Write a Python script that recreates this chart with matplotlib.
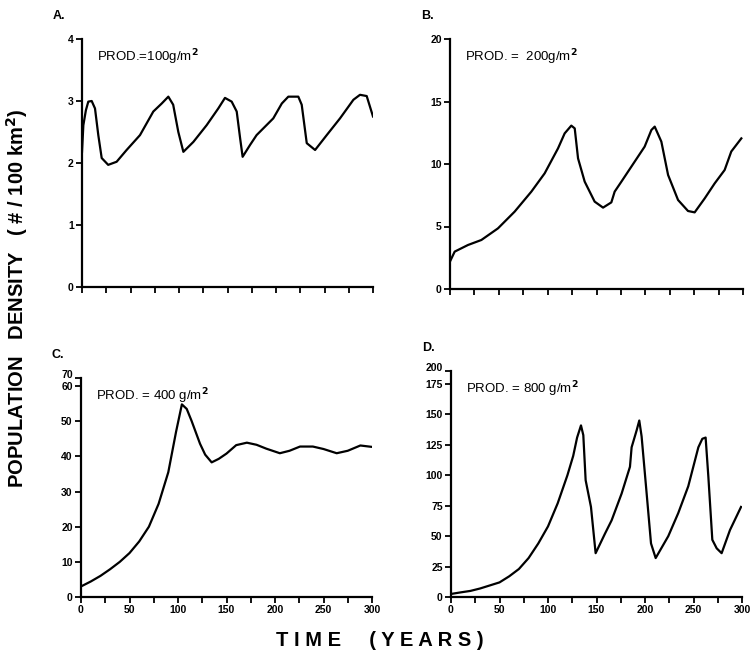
import matplotlib
matplotlib.use("Agg")
import matplotlib.pyplot as plt

plt.rcParams['font.family'] = ['Liberation Sans', 'DejaVu Sans']

W, H = 754, 658

# panel A, PROD = 100 g/m2
a_t = [0, 1.4, 4, 6.5, 10, 13.4, 16.8, 20.3, 27, 35.7, 46, 59.8, 73.5, 82.2, 89, 94,
       99.3, 104.5, 114.8, 128.5, 140.5, 147.4, 154.3, 159.5, 163, 165.6, 173.2, 180,
       197.2, 206, 212.7, 223, 226.5, 231.7, 240.3, 252.3, 266, 279.8, 286.6, 293.5, 300]
a_v = [2.18, 2.61, 2.85, 2.99, 3.0, 2.88, 2.45, 2.08, 1.97, 2.02, 2.21, 2.45, 2.83, 2.96, 3.07, 2.94,
       2.5, 2.18, 2.34, 2.61, 2.88, 3.05, 2.99, 2.83, 2.4, 2.1, 2.29, 2.45,
       2.72, 2.96, 3.07, 3.07, 2.94, 2.32, 2.21, 2.45, 2.72, 3.02, 3.1, 3.08, 2.75]

# panel B, PROD = 200 g/m2
b_t = [0, 4.8, 18.4, 32.1, 49.1, 66.2, 83.3, 96.9, 110.6, 117.4, 124.2, 127.7, 131.1, 137.9,
       148.1, 156.7, 165.2, 168.6, 175.5, 185.7, 199.3, 206.2, 209.6, 216.4, 223.3, 233.5,
       243.7, 250.5, 260.8, 271, 281.2, 288, 298.3]
b_v = [2.2, 2.99, 3.52, 3.92, 4.85, 6.19, 7.79, 9.25, 11.25, 12.45, 13.07, 12.85, 10.45, 8.59,
       6.99, 6.51, 6.93, 7.79, 8.59, 9.79, 11.39, 12.72, 12.99, 11.79, 9.12, 7.12,
       6.24, 6.13, 7.25, 8.45, 9.52, 11.0, 12.05]

# panel C, PROD = 400 g/m2
c_t = [0, 10, 20, 30, 40, 50, 60, 70, 80, 90, 98, 104, 109, 114, 122.7, 128, 134.7, 142, 150,
       160, 171, 181, 191, 205, 215, 225.8, 239, 250, 263.6, 275, 288, 300]
c_v = [3.0, 4.4, 6.0, 7.9, 10.0, 12.5, 15.8, 20.0, 26.5, 35.5, 47.0, 54.8, 53.5, 50.1, 43.6, 40.5,
       38.3, 39.3, 40.8, 43.2, 43.9, 43.3, 42.2, 40.9, 41.6, 42.8, 42.8, 42.1, 40.9, 41.6, 43.1, 42.7]

# panel D, PROD = 800 g/m2
d_t = [0, 10, 20, 30, 40, 50, 60, 70, 80, 90, 100, 110, 120, 126, 130, 134, 136.4, 138.8, 144.3,
       149.1, 158.7, 165.6, 175.9, 184.5, 186.2, 191.4, 194.1, 196.5, 201.7, 206.2, 211,
       224, 234.3, 244.6, 255, 259.1, 262.5, 265.3, 269.4, 273.9, 279, 287.6, 299]
d_v = [2.5, 3.8, 5.0, 7.0, 9.5, 12.0, 17.0, 23.0, 32.0, 44.0, 58.0, 77.0, 100.0, 116.0, 131.0, 141.0,
       133, 96, 74, 36, 52, 63, 85, 107, 123, 137, 145, 132, 85, 44, 32,
       50, 69, 91, 123, 130, 131, 99, 47, 40, 36, 55, 74]

x_major = [0, 50, 100, 150, 200, 250, 300]
x_minor = [25, 75, 125, 175, 225, 275]

panels = [
    # letter, t, v, rect px (left, top, right, bottom), ylim top, yticks, ylabels, top label, note, x labels
    ("A.", a_t, a_v, (82, 39, 373, 287), 4, [0, 1, 2, 3, 4], ["0", "1", "2", "3", "4"], None,
     "PROD.=100g/m$^{\\mathbf{2}}$", False),
    ("B.", b_t, b_v, (450, 39, 743, 289), 20, [0, 5, 10, 15, 20], ["0", "5", "10", "15", "20"], None,
     "PROD. =  200g/m$^{\\mathbf{2}}$", False),
    ("C.", c_t, c_v, (81, 378, 372, 597), 62.3, [0, 10, 20, 30, 40, 50, 60, 62.3],
     ["0", "10", "20", "30", "40", "50", "60", ""], "70",
     "PROD. = 400 g/m$^{\\mathbf{2}}$", True),
    ("D.", d_t, d_v, (451, 371, 742, 597), 185.7, [0, 25, 50, 75, 100, 125, 150, 175, 185.7],
     ["0", "25", "50", "75", "100", "125", "150", "175", ""], "200",
     "PROD. = 800 g/m$^{\\mathbf{2}}$", True),
]

fig = plt.figure(figsize=(W / 100, H / 100), dpi=100)

for letter, t, v, (l, tp, r, b), ytop, yt, ylab, toplab, note, show_x in panels:
    ax = fig.add_axes([l / W, 1 - b / H, (r - l) / W, (b - tp) / H])
    ax.plot(t, v, color="black", lw=1.6)
    ax.set_xlim(0, 300)
    ax.set_ylim(0, ytop)
    for s in ["top", "right"]:
        ax.spines[s].set_visible(False)
    for s in ["left", "bottom"]:
        ax.spines[s].set_linewidth(1.6)
    ax.set_yticks(yt)
    ax.set_yticklabels(ylab, fontsize=7.5, fontweight="bold")
    if toplab:
        # the top label is squeezed just above the next one in the original
        ax.annotate(toplab, xy=(0, ytop), xycoords="data", xytext=(-6, 2),
                    textcoords="offset points", ha="right", va="center",
                    fontsize=7.5, fontweight="bold", annotation_clip=False)
    ax.set_xticks(x_major)
    ax.set_xticks(x_minor, minor=True)
    if show_x:
        ax.set_xticklabels([str(x) for x in x_major], fontsize=7.5, fontweight="bold")
    else:
        ax.set_xticklabels([])
    ax.tick_params(which="both", direction="out", length=4, width=1.3, pad=2)
    ax.text(15 / (r - l), 1 - 18 / (b - tp), note, transform=ax.transAxes, fontsize=9.5,
            va="center", ha="left")
    fig.text((l - 29) / W, 1 - (tp - 23) / H, letter, fontsize=9, fontweight="bold",
             va="center", ha="left")

fig.text(17 / W, 1 - 298 / H, "POPULATION   DENSITY   ( # / 100 km$^{\\mathbf{2}}$)",
         rotation=90, fontsize=14.5, fontweight="bold", va="center", ha="center")
fig.text(380 / W, 1 - 640 / H, "T I M E     ( Y E A R S )", fontsize=14.5, fontweight="bold",
         va="center", ha="center")

fig.savefig("out.png", dpi=100)
